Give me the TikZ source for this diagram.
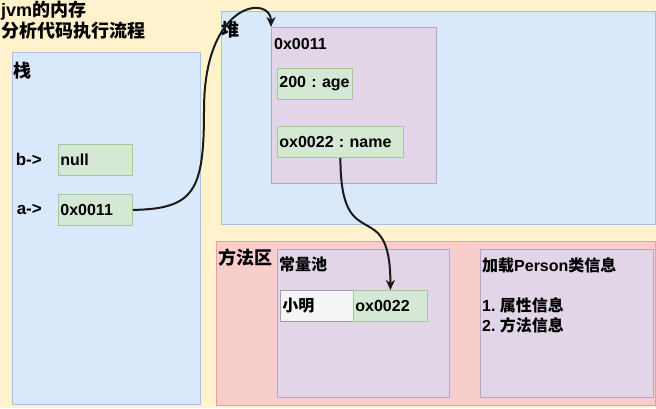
\documentclass[tikz,border=0pt]{standalone}
\usepackage{fontspec}
\setmainfont{Liberation Sans}
\newfontfamily\cjk{Noto Sans CJK SC}
\usetikzlibrary{positioning,arrows.meta}
\definecolor{memyellow}{HTML}{FFF2CC}
\definecolor{bluefill}{HTML}{DAE8FC}
\definecolor{blueborder}{HTML}{A9C1DE}
\definecolor{purplefill}{HTML}{E1D5E7}
\definecolor{purpleborder}{HTML}{B9A3C6}
\definecolor{greenfill}{HTML}{D5E8D4}
\definecolor{greenborder}{HTML}{A3C99A}
\definecolor{redfill}{HTML}{F8CECC}
\definecolor{redborder}{HTML}{E8A09C}
\definecolor{whitefill}{HTML}{F5F5F5}
\definecolor{whiteborder}{HTML}{A0A0A0}
\definecolor{linkcol}{HTML}{1A1A1A}
\newcommand{\zh}[1]{{\cjk #1}}
\frenchspacing

\begin{document}
\begin{tikzpicture}[x=1pt, y=-1pt, font=\bfseries\fontsize{16}{20}\selectfont,
	area/.style={draw=#1border, fill=#1fill, line width=0.8pt, anchor=north west, inner sep=0pt},
	cell/.style={draw=greenborder, fill=greenfill, line width=0.8pt, anchor=north west,
		inner xsep=2pt, inner ysep=0pt, minimum height=31pt, text width=#1, align=left},
	lbl/.style={inner sep=0pt},
	biglbl/.style={inner sep=0pt, anchor=north west, font=\bfseries\fontsize{18}{21}\selectfont},
	link/.style={draw=linkcol, line width=2pt, -{Stealth[length=10pt,width=9pt,inset=3pt]}}]
	\fill[memyellow] (0,0) rectangle (656,408);
	\useasboundingbox (0,0) rectangle (656,408);
	\node[biglbl, align=left] (title) at (1,1) {jvm\zh{的内存}\\\zh{分析代码执行流程}};
	% regions
	\node[area=blue, minimum width=188pt, minimum height=352pt] (stack) at (12,52) {};
	\node[area=blue, minimum width=434pt, minimum height=213pt] (heap) at (220.5,10.5) {};
	\node[area=red, minimum width=439pt, minimum height=164pt] (method) at (216,241) {};
	\node[area=purple, minimum width=165pt, minimum height=156pt] (obj) at (271,27) {};
	\node[area=purple, minimum width=172pt, minimum height=148pt] (pool) at (277,249) {};
	\node[area=purple, minimum width=173pt, minimum height=148pt] (info) at (480,249) {};
	\node[biglbl, below right=10pt and 1pt of stack.north west] (stacklbl) {\zh{栈}};
	\node[biglbl, below right=10pt and 1pt of heap.north west] (heaplbl) {\zh{堆}};
	\node[biglbl, below right=8pt and 2pt of method.north west] (methodlbl) {\zh{方法区}};
	\node[lbl, anchor=north west, below right=11pt and 3pt of obj.north west] (objlbl) {0x0011};
	\node[lbl, anchor=north west, below right=8pt and 2pt of pool.north west] (poollbl) {\zh{常量池}};
	\node[lbl, anchor=north west, align=left, below right=8pt and 2pt of info.north west] (infolbl)
		{\zh{加载}Person\zh{类信息}\\[20pt]1. \zh{属性信息}\\2. \zh{方法信息}};
	% cells
	\node[cell=70pt] (null) at (58,144) {null};
	\node[cell=70pt] (addra) at (58,194) {0x0011};
	\node[lbl, font=\bfseries\fontsize{17}{20}\selectfont, left=16pt of null] (b) {b->};
	\node[lbl, font=\bfseries\fontsize{17}{20}\selectfont, left=16pt of addra] (a) {a->};
	\node[cell=71pt] (age) at (277,68) {200 : age};
	\node[cell=122pt] (name) at (277,126) {ox0022 : name};
	\node[cell=69pt, draw=whiteborder, fill=whitefill] (xm) at (280,290) {\zh{小明}};
	\node[cell=70pt] (str) at (353,290) {ox0022};
	% references
	\draw[link] (addra.east) .. controls (195,209) and (204,190) .. (204,110)
		.. controls (204,0) and (271,-5) .. (obj.north west);
	\draw[link] (name.south) .. controls +(0,103) and +(0,-99) .. (str.north);
\end{tikzpicture}
\end{document}
